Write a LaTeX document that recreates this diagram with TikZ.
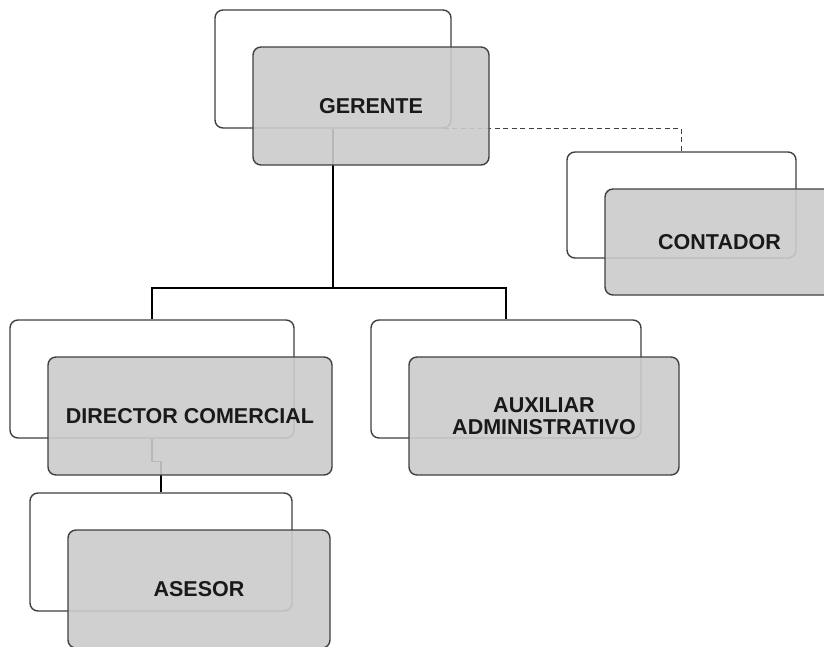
\documentclass[tikz,border=0pt]{standalone}
\usepackage{fontspec}
\setmainfont{Liberation Sans}
\usetikzlibrary{positioning}
\definecolor{edge}{HTML}{404040}
\definecolor{boxgray}{HTML}{CBCBCB}
\begin{document}
\begin{tikzpicture}[x=1pt,y=-1pt,font=\fontsize{21.5}{22}\selectfont\bfseries,
 back/.style={draw=edge,line width=1.4pt,rounded corners=8pt,fill=white,inner sep=0pt,minimum height=118pt},
 front/.style={draw=edge,line width=1.4pt,rounded corners=8pt,fill=boxgray,fill opacity=0.9,
   text opacity=1,text=black!90,inner sep=0pt,minimum height=118pt,align=center},
 link/.style={line width=1.2pt,black}]
\clip (0,0) rectangle (824,646);
\node[back,minimum width=236pt] (gerb) at (333,69) {};
\node[back,minimum width=229pt,minimum height=106pt] (cntb) at (681.5,205) {};
\node[back,minimum width=284pt] (dirb) at (152,379) {};
\node[back,minimum width=270pt] (auxb) at (506,379) {};
\node[back,minimum width=262pt] (aseb) at (161,552) {};
\coordinate (bar) at (333,288);
\draw[link] (gerb.south) -- (bar);
\draw[link] (dirb.north) |- (bar) -| (auxb.north);
\draw[link] (dirb.south) -- ++(0,23) -| (aseb.north);
\draw[link,edge,dash pattern=on 5pt off 3.5pt] ([xshift=-8pt]gerb.south east) -| (cntb.north);
\node[front,minimum width=236pt] (gerf) at ([shift={(38,37)}]gerb.center) {GERENTE};
\node[front,minimum width=229pt,minimum height=106pt] (cntf) at ([shift={(38,37)}]cntb.center) {CONTADOR};
\node[front,minimum width=284pt] (dirf) at ([shift={(38,37)}]dirb.center) {DIRECTOR COMERCIAL};
\node[front,minimum width=270pt] (auxf) at ([shift={(38,37)}]auxb.center) {AUXILIAR\\ADMINISTRATIVO};
\node[front,minimum width=262pt] (asef) at ([shift={(38,37)}]aseb.center) {ASESOR};
\end{tikzpicture}
\end{document}
